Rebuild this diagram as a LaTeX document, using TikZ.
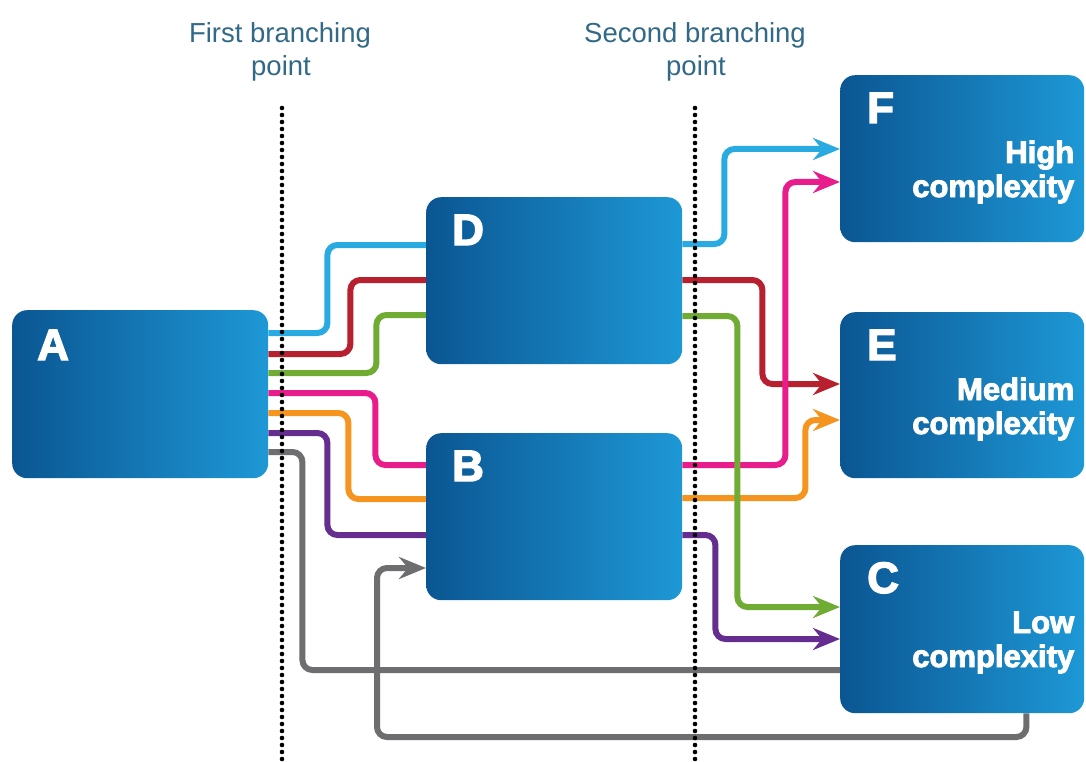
\documentclass[tikz,border=0pt]{standalone}
\usepackage{fontspec}
\setmainfont{Liberation Sans}
\newfontfamily\heavyfont[BoldFeatures={FakeBold=3}]{Liberation Sans}
\usetikzlibrary{arrows.meta}
\pgfdeclarelayer{bg}
\pgfdeclarelayer{back}
\pgfsetlayers{back,bg,main}
\definecolor{boxdark}{RGB}{10,86,146}
\definecolor{boxlight}{RGB}{30,152,214}
\definecolor{cblue}{RGB}{41,171,226}
\definecolor{cred}{RGB}{183,32,46}
\definecolor{cgreen}{RGB}{112,172,52}
\definecolor{cpink}{RGB}{233,28,140}
\definecolor{corange}{RGB}{245,148,30}
\definecolor{cpurple}{RGB}{102,45,145}
\definecolor{cgray}{RGB}{110,110,113}
\definecolor{toptext}{RGB}{50,105,135}
\begin{document}
\begin{tikzpicture}[x=1pt,y=-1pt,
  box/.style={rectangle, rounded corners=15pt, left color=boxdark, right color=boxlight, draw=none, inner sep=0pt, anchor=north west},
  letter/.style={text=white, font=\heavyfont\bfseries\fontsize{44}{44}\selectfont, anchor=base west, inner sep=0pt},
  desc/.style={text=white, font=\heavyfont\bfseries\fontsize{31}{34}\selectfont, anchor=base east, inner sep=0pt},
  toplabel/.style={text=toptext, font=\fontsize{27.5}{33}\selectfont, anchor=base, inner sep=0pt},
  dotline/.style={line width=4.6pt, line cap=round, dash pattern=on 0pt off 7pt},
  conn/.style={line width=6pt, rounded corners=10pt},
  arr/.style={-{Stealth[length=27pt,width=22pt,inset=9pt]}}
]
\useasboundingbox (0,0) rectangle (1086,762);
\begin{pgfonlayer}{back}
\fill[white] (0,0) rectangle (1086,762);
\end{pgfonlayer}

% boxes
\node[box, minimum width=256pt, minimum height=168pt] (A) at (12,310) {};
\node[box, minimum width=256pt, minimum height=167pt] (D) at (426,197) {};
\node[box, minimum width=256pt, minimum height=167pt] (B) at (426,433) {};
\node[box, minimum width=244pt, minimum height=167pt] (F) at (840,75) {};
\node[box, minimum width=244pt, minimum height=166pt] (E) at (840,312) {};
\node[box, minimum width=244pt, minimum height=168pt] (C) at (840,545) {};

% letters
\node[letter] (Al) at ([xshift=25pt,yshift=-50pt]A.north west) {A};
\node[letter] (Dl) at ([xshift=26pt,yshift=-48pt]D.north west) {D};
\node[letter] (Bl) at ([xshift=26pt,yshift=-48pt]B.north west) {B};
\node[letter] (Fl) at ([xshift=27pt,yshift=-48pt]F.north west) {F};
\node[letter] (El) at ([xshift=27pt,yshift=-48pt]E.north west) {E};
\node[letter] (Cl) at ([xshift=27pt,yshift=-48pt]C.north west) {C};

% descriptions
\node[desc] (Fd1) at ([xshift=-10pt,yshift=-88pt]F.north east) {High};
\node[desc] (Fd2) at ([xshift=-10pt,yshift=-122pt]F.north east) {complexity};
\node[desc] (Ed1) at ([xshift=-10pt,yshift=-88pt]E.north east) {Medium};
\node[desc] (Ed2) at ([xshift=-10pt,yshift=-122pt]E.north east) {complexity};
\node[desc] (Cd1) at ([xshift=-10pt,yshift=-88pt]C.north east) {Low};
\node[desc] (Cd2) at ([xshift=-10pt,yshift=-122pt]C.north east) {complexity};

% top labels
\node[toplabel] (t1a) at (280,43) {First branching};
\node[toplabel] (t1b) at (281,76) {point};
\node[toplabel] (t2a) at (695,43) {Second branching};
\node[toplabel] (t2b) at (696,76) {point};

% connectors
\coordinate (g1) at (377,737);
\begin{pgfonlayer}{bg}
\draw[conn, cgray] ([yshift=-142pt]A.north east) -- ++(34,0) |- ([yshift=-125pt]C.north west);
\draw[conn, cgray, arr] ([xshift=-58pt]C.south east) |- (g1) |- ([yshift=-135pt]B.north west);
\draw[conn, cblue] ([yshift=-23pt]A.north east) -- ++(59,0) |- ([yshift=-48pt]D.north west);
\draw[conn, cred] ([yshift=-44pt]A.north east) -- ++(82,0) |- ([yshift=-83pt]D.north west);
\draw[conn, cgreen] ([yshift=-63pt]A.north east) -- ++(108,0) |- ([yshift=-118pt]D.north west);
\draw[conn, cpink] ([yshift=-83pt]A.north east) -- ++(107,0) |- ([yshift=-32pt]B.north west);
\draw[conn, corange] ([yshift=-103pt]A.north east) -- ++(80,0) |- ([yshift=-66pt]B.north west);
\draw[conn, cpurple] ([yshift=-123pt]A.north east) -- ++(59,0) |- ([yshift=-102pt]B.north west);
\draw[conn, cblue, arr] ([yshift=-47pt]D.north east) -- ++(42,0) |- ([yshift=-74pt]F.north west);
\draw[conn, cred, arr] ([yshift=-83pt]D.north east) -- ++(80,0) |- ([yshift=-72pt]E.north west);
\draw[conn, corange, arr] ([yshift=-65pt]B.north east) -- ++(123,0) |- ([yshift=-108pt]E.north west);
\draw[conn, cpink, arr] ([yshift=-32pt]B.north east) -- ++(103,0) |- ([yshift=-107pt]F.north west);
\draw[conn, cgreen, arr] ([yshift=-119pt]D.north east) -- ++(55,0) |- ([yshift=-62pt]C.north west);
\draw[conn, cpurple, arr] ([yshift=-102pt]B.north east) -- ++(33,0) |- ([yshift=-94pt]C.north west);
\end{pgfonlayer}

% dotted branching lines
\coordinate (d1t) at (282,108);
\coordinate (d1b) at (282,762);
\coordinate (d2t) at (695,108);
\coordinate (d2b) at (695,762);
\draw[dotline] (d1t) -- (d1b);
\draw[dotline] (d2t) -- (d2b);
\end{tikzpicture}
\end{document}
